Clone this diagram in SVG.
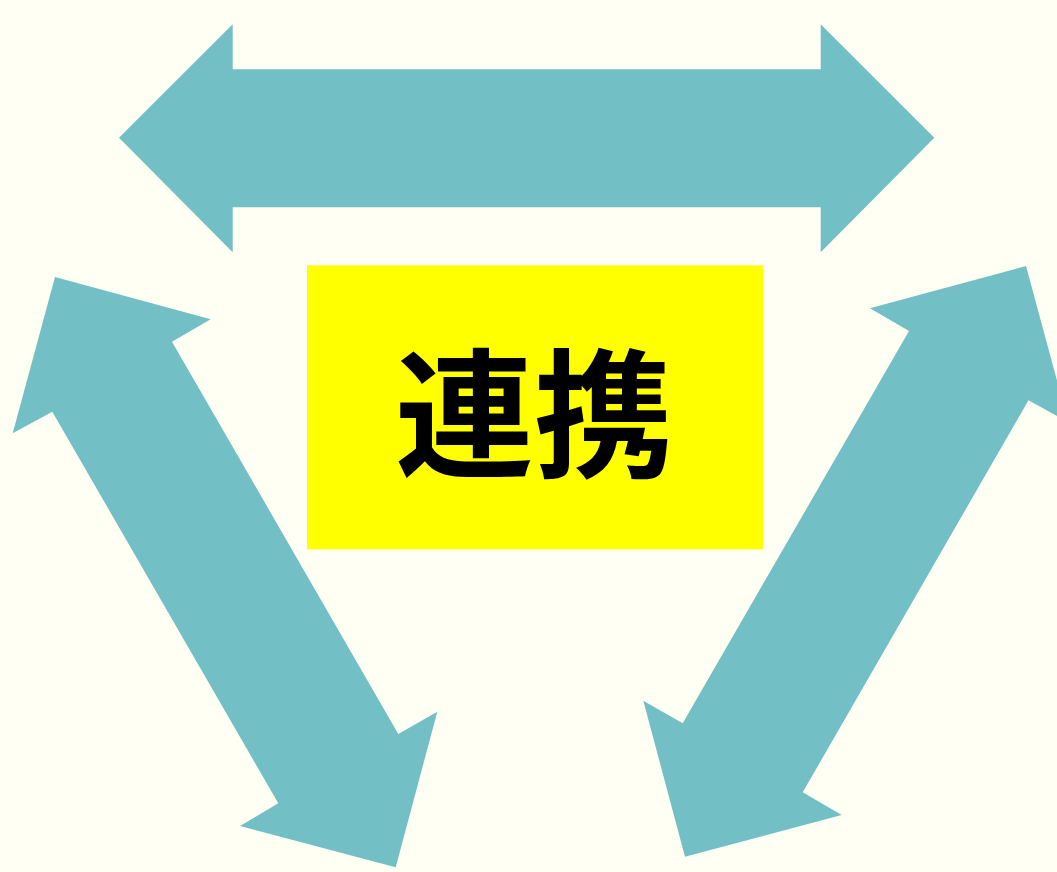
<svg xmlns="http://www.w3.org/2000/svg" width="1057" height="872" viewBox="0 0 1057 872">
<style>
.arrow{fill:#72bfc5;}
.label{font-family:"Noto Sans CJK JP","Noto Sans CJK SC",sans-serif;font-weight:bold;font-size:139px;fill:#000;}
</style>
<rect x="0" y="0" width="1057" height="872" fill="#fffff3"/>
<g id="connectors">
<polygon id="arrow-top" class="arrow" points="119,137.7 232.7,24.3 232.7,69.3 820.7,69.3 820.7,24.3 934.3,137.7 820.7,252.3 820.7,207.3 232.7,207.3 232.7,252.3"/>
<polygon id="arrow-left" class="arrow" points="55,277 210.7,319.3 172,341.7 398.3,734 437.3,711.7 395.7,867.3 240,826 278.3,803.3 52.3,411.7 12.7,433.3"/>
<polygon id="arrow-right" class="arrow" points="1026,266 1068.3,422.3 1028.5,400.3 802.7,792.3 841.7,815 685,856.7 643.3,700.7 682.7,723.3 909,331 870,308.3"/>
</g>
<g id="center">
<rect x="307" y="265.3" width="456.3" height="284" fill="#ffff00"/>
<text class="label" x="534" y="466" text-anchor="middle">連携</text>
</g>
</svg>
